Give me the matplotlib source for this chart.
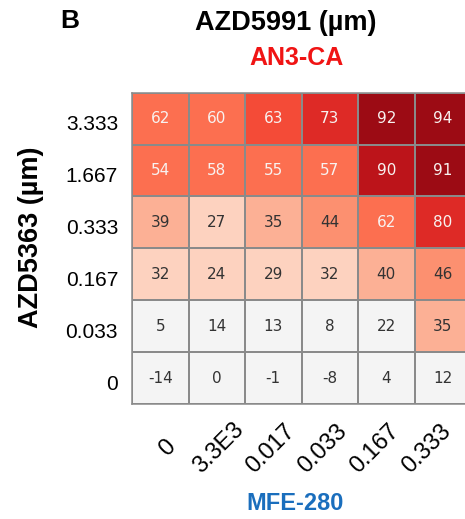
import numpy as np
import matplotlib
matplotlib.use("Agg")
import matplotlib.pyplot as plt
import matplotlib.transforms as mtransforms
from matplotlib.colors import ListedColormap, BoundaryNorm

plt.rcParams['font.family'] = ['Liberation Sans', 'DejaVu Sans']

# MFE-280 doses (columns) and AZD5363 doses (rows, top to bottom)
mfe_labels = ['0', '3.3E3', '0.017', '0.033', '0.167', '0.333']
azd_labels = ['3.333', '1.667', '0.333', '0.167', '0.033', '0']

values = np.array([
    [62, 60, 63, 73, 92, 94],
    [54, 58, 55, 57, 90, 91],
    [39, 27, 35, 44, 62, 80],
    [32, 24, 29, 32, 40, 46],
    [5, 14, 13, 8, 22, 35],
    [-14, 0, -1, -8, 4, 12],
])

# stepped red palette
bin_edges = [-100, 23, 34, 42, 50, 62.5, 70, 85, 90.5, 100]
bin_colors = ['#f4f4f4', '#fdd2bf', '#fcb095', '#fc9070', '#fc6f50',
              '#f44b37', '#de2a26', '#bc141a', '#9c0b14']
cmap = ListedColormap(bin_colors)
norm = BoundaryNorm(bin_edges, cmap.N)

fig = plt.figure(figsize=(4.65, 5.19), dpi=100)
ax = fig.add_axes([132 / 465, 115 / 519, 339 / 465, 311.3 / 519])

nr, nc = values.shape
ax.pcolormesh(np.arange(nc + 1), np.arange(nr + 1), values[::-1], cmap=cmap, norm=norm,
              edgecolors='#8a8a8a', linewidth=1.1)
ax.set_xlim(0, nc)
ax.set_ylim(0, nr)

for i in range(nr):
    for j in range(nc):
        v = values[i, j]
        col = '#f8f2f0' if v >= 50 else '#333333'
        ax.text(j + 0.5, nr - i - 0.5, str(v), ha='center', va='center',
                fontsize=11, color=col, family='DejaVu Sans')

ax.set_xticks(np.arange(nc) + 0.5)
ax.set_xticklabels(mfe_labels, rotation=45, ha='center', va='center',
                   rotation_mode='anchor', fontsize=17)
ax.set_yticks(np.arange(nr) + 0.5)
ax.set_yticklabels(azd_labels[::-1], fontsize=15)
ax.tick_params(axis='x', length=0, pad=32)
ax.tick_params(axis='y', length=0, pad=10)
# pull the rotated labels together a little, as in the original figure
for j, lab in enumerate(ax.get_xticklabels()):
    dx = (5 - 3.3 * j) / 72.0
    lab.set_transform(lab.get_transform() + mtransforms.ScaledTranslation(dx, 0, fig.dpi_scale_trans))
for lab in ax.get_yticklabels():
    lab.set_transform(lab.get_transform() + mtransforms.ScaledTranslation(0, -3 / 72.0, fig.dpi_scale_trans))
for s in ax.spines.values():
    s.set_color('#8a8a8a')
    s.set_linewidth(1.1)

fig.text(70 / 465, 1 - 21 / 519, 'B', fontsize=19, fontweight='bold', ha='center', va='center')
fig.text(286 / 465, 1 - 23 / 519, 'AZD5991 (µm)', fontsize=19.5, fontweight='bold',
         ha='center', va='center')
fig.text(296 / 465, 1 - 58 / 519, 'AN3-CA', fontsize=18, fontweight='bold',
         color='#f01414', ha='center', va='center')
fig.text(31 / 465, 1 - 237 / 519, 'AZD5363 (µm)', fontsize=19.5, fontweight='bold',
         rotation=90, ha='center', va='center')
fig.text(295 / 465, 1 - 504 / 519, 'MFE-280', fontsize=17, fontweight='bold',
         color='#1a6ebd', ha='center', va='center')

fig.savefig('out.png', dpi=100)
